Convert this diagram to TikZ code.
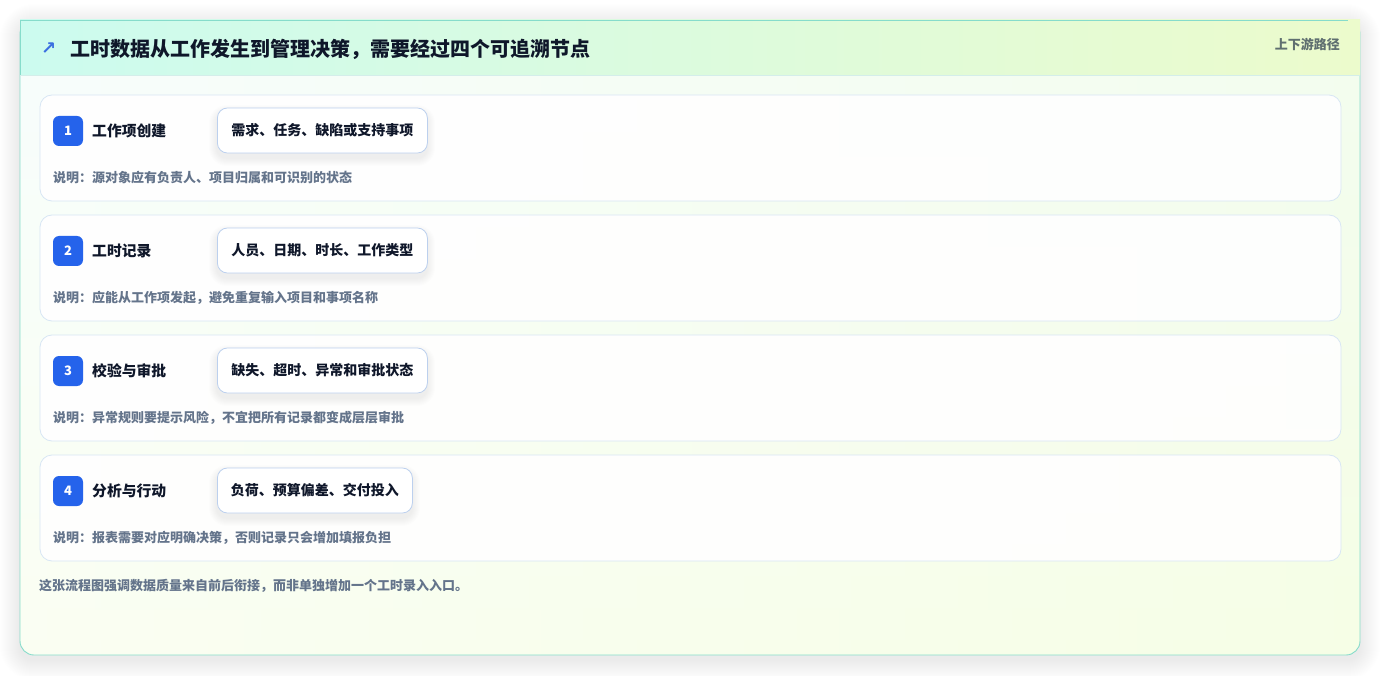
\documentclass[tikz,border=0pt]{standalone}
\usepackage{fontspec}
\setmainfont{Noto Sans CJK SC}
\newfontfamily\symfont{DejaVu Sans}
\definecolor{cardborder}{HTML}{86DCCB}
\definecolor{hdleft}{HTML}{CCFBEF}
\definecolor{hdright}{HTML}{ECFBCC}
\definecolor{bodytl}{HTML}{EFFCFA}
\definecolor{bodybr}{HTML}{F6FEE6}
\definecolor{hdline}{HTML}{D4EEEA}
\definecolor{rowborder}{HTML}{D8E6F4}
\definecolor{pillborder}{HTML}{BCD0EE}
\definecolor{badgeblue}{HTML}{2563EB}
\definecolor{ink}{HTML}{0F172A}
\definecolor{muted}{HTML}{64748B}
\definecolor{hdmuted}{HTML}{5F6F70}
\definecolor{arrowblue}{HTML}{3B6FE0}
\tikzset{
  rowcard/.style={draw=rowborder, line width=0.8pt, fill=white, fill opacity=0.9, rounded corners=12pt},
  badge/.style={fill=badgeblue, rounded corners=6pt, minimum width=30pt, minimum height=30pt, inner sep=0pt, text=white, font=\fontsize{13}{13}\selectfont\bfseries},
  rowtitle/.style={anchor=west, inner sep=0pt, text=ink, font=\fontsize{14.8}{14.8}\selectfont\bfseries},
  pill/.style={draw=pillborder, line width=0.8pt, fill=white, rounded corners=10pt, minimum height=45pt, inner sep=0pt, text=ink, font=\fontsize{14}{14}\selectfont\bfseries},
  desc/.style={anchor=west, inner sep=0pt, text=muted, font=\fontsize{13}{13}\selectfont\bfseries},
}
\begin{document}
\begin{tikzpicture}[x=1pt,y=-1pt]
\useasboundingbox (0,0) rectangle (1381,676);
\fill[white] (0,0) rectangle (1381,676);
% outer shadow
\foreach \i in {1,...,20} {
  \fill[black, opacity=0.0045, rounded corners=14pt+\i pt] (20-\i,24-\i) rectangle (1360+\i,660+\i);
}
% card body
\path[shading=axis, top color=bodytl, bottom color=bodybr, shading angle=0, rounded corners=14pt] (20,20) rectangle (1360,655);
\path[left color=bodytl!0, right color=bodybr, opacity=0.5, rounded corners=14pt] (20,20) rectangle (1360,655);
\draw[cardborder, line width=0.9pt, rounded corners=14pt] (20,20) rectangle (1360,655);
% header
\path[left color=hdleft, right color=hdright] (20,20) rectangle (1360,75);
\draw[hdline, line width=0.8pt] (20,75) -- (1360,75);
\draw[cardborder, line width=0.9pt] (20,75) -- (20,20) -- (1348,20);
\node[anchor=west, inner sep=0pt, text=arrowblue, font=\symfont\fontsize{18}{18}\selectfont\bfseries] (icon) at (41,49) {↗};
\node[anchor=west, inner sep=0pt, text=ink, font=\fontsize{20}{20}\selectfont\bfseries] (title) at (70,49) {工时数据从工作发生到管理决策，需要经过四个可追溯节点};
\node[anchor=east, inner sep=0pt, text=hdmuted, font=\fontsize{13}{13}\selectfont\bfseries] (tag) at (1340,44) {上下游路径};
% rows
\foreach \n/\w/\t/\p/\d in {
  1/210/工作项创建/需求、任务、缺陷或支持事项/说明：源对象应有负责人、项目归属和可识别的状态,
  2/210/工时记录/人员、日期、时长、工作类型/说明：应能从工作项发起，避免重复输入项目和事项名称,
  3/210/校验与审批/缺失、超时、异常和审批状态/说明：异常规则要提示风险，不宜把所有记录都变成层层审批,
  4/195/分析与行动/负荷、预算偏差、交付投入/说明：报表需要对应明确决策，否则记录只会增加填报负担} {
  \pgfmathsetmacro{\yz}{95+120*(\n-1)}
  \draw[rowcard] (40,\yz) rectangle (1341,\yz+106);
  \node[badge] (badge\n) at (68,\yz+36) {\n};
  \node[rowtitle] (rtitle\n) at (92,\yz+36) {\t};
  \foreach \k in {1,...,8} {
    \fill[blue!40!black, opacity=0.006, rounded corners=10pt+\k pt] (217-\k,\yz+13-\k+5) rectangle (217+\w+\k,\yz+58+\k+5);
  }
  \node[pill, minimum width=\w pt, anchor=west] (pill\n) at (217,\yz+35.5) {\p};
  \node[desc] (desc\n) at (53,\yz+83) {\d};
}
\node[desc] (footer) at (39,586) {这张流程图强调数据质量来自前后衔接，而非单独增加一个工时录入入口。};
\end{tikzpicture}
\end{document}
